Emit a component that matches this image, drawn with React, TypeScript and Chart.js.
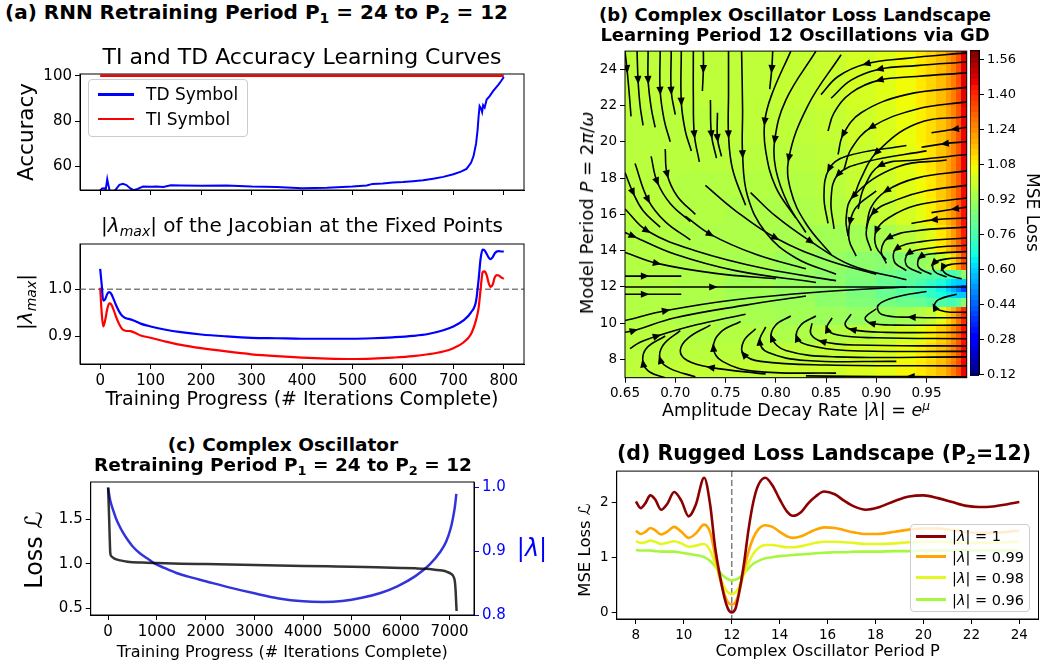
import React, { useEffect, useRef } from "react";
import { Chart, registerables } from "chart.js";

Chart.register(...registerables);

const FONT = "'DejaVu Sans', 'Liberation Sans', sans-serif";
Chart.defaults.font.family = FONT;
Chart.defaults.color = "#000";

// ---------------- Panel (a) data ----------------
const tdIter = [0, 4, 8, 11, 14, 16, 19, 24, 30, 38, 45, 52, 60, 66, 74, 85, 100, 112, 125, 140, 160, 200, 250, 300, 350, 400, 450, 500, 528, 540, 560, 580, 600, 620, 640, 660, 680, 700, 715, 726, 735, 740, 745, 748, 750, 752, 755, 757, 759, 762, 766, 772, 779, 789, 795, 800];
const tdAcc = [49.3, 50.2, 50.3, 49.8, 54.3, 52.0, 49.0, 48.5, 49.5, 51.8, 52.2, 51.7, 50.2, 49.4, 50.0, 51.0, 50.9, 51.0, 50.8, 51.6, 51.5, 51.4, 51.5, 51.0, 50.8, 50.3, 50.5, 51.0, 51.5, 52.2, 52.4, 52.8, 53.0, 53.4, 53.8, 54.5, 55.3, 56.5, 57.6, 58.8, 61.5, 64.5, 70.0, 76.0, 82.0, 86.6, 85.5, 84.0, 87.0, 86.0, 89.5, 91.0, 93.3, 96.0, 97.8, 99.5];
const tiIter = [0, 800];
const tiAcc = [100, 100];
const iterTicks = [0, 100, 200, 300, 400, 500, 600, 700, 800];
const accTicks = [60, 80, 100];

const jacIter = [0, 3, 6, 10, 14, 18, 22, 27, 32, 38, 44, 50, 60, 70, 80, 100, 130, 160, 200, 250, 300, 350, 400, 450, 500, 540, 580, 620, 650, 680, 700, 720, 735, 745, 750, 754, 758, 762, 766, 770, 774, 778, 782, 786, 790, 795, 800];
const jacTD = [1.043, 1.01, 0.976, 0.979, 0.99, 0.994, 0.99, 0.978, 0.965, 0.952, 0.943, 0.939, 0.936, 0.932, 0.927, 0.921, 0.914, 0.909, 0.904, 0.9, 0.897, 0.896, 0.895, 0.895, 0.895, 0.896, 0.898, 0.901, 0.905, 0.913, 0.921, 0.934, 0.951, 0.975, 1.02, 1.065, 1.084, 1.082, 1.075, 1.067, 1.064, 1.068, 1.076, 1.08, 1.081, 1.08, 1.08];
const jacTI = [1.003, 0.95, 0.921, 0.935, 0.958, 0.97, 0.968, 0.955, 0.94, 0.925, 0.915, 0.912, 0.911, 0.907, 0.902, 0.897, 0.889, 0.882, 0.875, 0.868, 0.862, 0.858, 0.855, 0.853, 0.852, 0.853, 0.855, 0.858, 0.862, 0.868, 0.875, 0.887, 0.905, 0.935, 0.96, 1.0, 1.036, 1.038, 1.03, 1.013, 1.005, 1.01, 1.025, 1.03, 1.029, 1.025, 1.022];
const jacTicks = [0.9, 1.0];
const jacRef = 1.0;

// ---------------- Panel (b) data ----------------
const lamEdges = [0.65, 0.7, 0.75, 0.8, 0.84, 0.87, 0.9, 0.92, 0.94, 0.95, 0.96, 0.97, 0.975, 0.98, 0.985, 0.99];
const periodEdges = [7, 8, 9, 10, 11, 11.5, 11.8, 12.2, 12.5, 13, 14, 15.5, 17, 18.5, 20, 22, 25];
// rows from P = 7 (bottom) up to P = 25 (top)
const lossGrid = [
  [0.98, 0.99, 0.99, 1.0, 1.01, 1.03, 1.05, 1.08, 1.1, 1.13, 1.17, 1.22, 1.27, 1.34, 1.46],
  [0.97, 0.97, 0.97, 0.98, 0.99, 1.01, 1.03, 1.06, 1.09, 1.12, 1.16, 1.21, 1.26, 1.33, 1.45],
  [0.97, 0.96, 0.96, 0.95, 0.96, 0.97, 0.99, 1.02, 1.05, 1.09, 1.14, 1.19, 1.25, 1.32, 1.44],
  [0.96, 0.95, 0.94, 0.93, 0.92, 0.91, 0.91, 0.93, 0.96, 0.99, 1.05, 1.13, 1.19, 1.28, 1.4],
  [0.96, 0.95, 0.93, 0.92, 0.89, 0.87, 0.85, 0.83, 0.82, 0.8, 0.78, 0.76, 0.76, 0.79, 0.88],
  [0.96, 0.95, 0.93, 0.91, 0.89, 0.86, 0.82, 0.8, 0.77, 0.73, 0.69, 0.65, 0.62, 0.6, 0.6],
  [0.96, 0.95, 0.93, 0.91, 0.89, 0.85, 0.82, 0.79, 0.75, 0.71, 0.66, 0.61, 0.56, 0.5, 0.4],
  [0.96, 0.95, 0.93, 0.91, 0.89, 0.86, 0.82, 0.8, 0.77, 0.73, 0.69, 0.65, 0.62, 0.6, 0.6],
  [0.96, 0.95, 0.93, 0.91, 0.89, 0.87, 0.84, 0.82, 0.81, 0.8, 0.78, 0.76, 0.77, 0.8, 0.9],
  [0.96, 0.95, 0.94, 0.92, 0.91, 0.89, 0.88, 0.88, 0.9, 0.93, 0.99, 1.06, 1.13, 1.22, 1.35],
  [0.96, 0.95, 0.95, 0.94, 0.93, 0.93, 0.94, 0.97, 1.01, 1.04, 1.1, 1.16, 1.22, 1.3, 1.42],
  [0.97, 0.96, 0.95, 0.95, 0.96, 0.97, 0.99, 1.02, 1.05, 1.09, 1.14, 1.19, 1.24, 1.32, 1.44],
  [0.97, 0.96, 0.96, 0.96, 0.97, 0.99, 1.01, 1.04, 1.07, 1.1, 1.15, 1.2, 1.25, 1.32, 1.45],
  [0.97, 0.97, 0.97, 0.97, 0.98, 1.0, 1.02, 1.05, 1.08, 1.11, 1.16, 1.21, 1.26, 1.33, 1.46],
  [0.97, 0.97, 0.98, 0.98, 0.99, 1.01, 1.03, 1.06, 1.09, 1.12, 1.16, 1.21, 1.26, 1.33, 1.46],
  [0.98, 0.98, 0.98, 0.99, 1.0, 1.02, 1.04, 1.07, 1.1, 1.13, 1.17, 1.22, 1.27, 1.34, 1.47],
];
const lamTicks = [0.65, 0.7, 0.75, 0.8, 0.85, 0.9, 0.95];
const periodTicks = [8, 10, 12, 14, 16, 18, 20, 22, 24];
const cbTicks = [0.12, 0.28, 0.44, 0.6, 0.76, 0.92, 1.08, 1.24, 1.4, 1.56];
const cbMin = 0.12;
const cbMax = 1.6;

// gradient-descent streamlines: points in (|lambda|, P), a = arrow position
const streamlines = [
  { a: 1, p: [[0.65, 25], [0.652, 24.0], [0.654, 22.8], [0.656, 21.4]] },
  { a: 1, p: [[0.662, 25], [0.663, 23.4], [0.665, 22.0], [0.668, 20.9]] },
  { a: 1, p: [[0.673, 25], [0.673, 23.4], [0.676, 21.9], [0.68, 20.8]] },
  { a: 1, p: [[0.685, 25], [0.685, 22.8], [0.689, 21.2], [0.695, 20.0]] },
  { a: 1, p: [[0.696, 25], [0.696, 22.8], [0.7, 21.5]] },
  { a: 1, p: [[0.706, 25], [0.706, 22.2], [0.71, 20.6], [0.716, 19.5]] },
  { a: 2, p: [[0.718, 25], [0.718, 22.5], [0.719, 20.4], [0.724, 18.9]] },
  { a: 1, p: [[0.728, 25], [0.728, 24.0], [0.727, 22.8]] },
  { a: 1, p: [[0.735, 22.3], [0.736, 20.4], [0.741, 19.1]] },
  { a: 1, p: [[0.742, 21.6], [0.742, 20.2], [0.746, 19.2]] },
  { a: 2, p: [[0.753, 25], [0.753, 22.6], [0.753, 20.4], [0.757, 18.5], [0.77, 16.5]] },
  { a: 2, p: [[0.766, 25], [0.767, 21.8], [0.767, 19.3], [0.772, 17.0], [0.79, 15.0], [0.82, 13.6], [0.86, 12.7]] },
  { a: 1, p: [[0.797, 25], [0.796, 24.0], [0.794, 22.9]] },
  { a: 2, p: [[0.815, 25], [0.796, 22.6], [0.789, 21.1], [0.79, 19.5], [0.8, 17.5], [0.82, 15.8]] },
  { a: 2, p: [[0.84, 25], [0.81, 22.3], [0.799, 20.1], [0.8, 18.5], [0.812, 16.6], [0.83, 15.0]] },
  { a: 2, p: [[0.865, 24.8], [0.832, 22.0], [0.813, 19.1], [0.815, 17.3], [0.83, 15.5], [0.855, 13.8]] },
  { a: 2, p: [[0.99, 24.9], [0.93, 24.6], [0.89, 24.3], [0.862, 23.6], [0.845, 22.6]] },
  { a: 2, p: [[0.99, 24.4], [0.94, 24.2], [0.903, 24.0], [0.875, 23.4], [0.855, 22.4]] },
  { a: 2, p: [[0.99, 23.8], [0.94, 23.6], [0.903, 23.4], [0.875, 22.7], [0.858, 21.6], [0.852, 20.6]] },
  { a: 3, p: [[0.99, 23.0], [0.93, 22.6], [0.885, 21.6], [0.867, 20.4], [0.862, 19.3]] },
  { a: 2, p: [[0.99, 22.2], [0.94, 21.8], [0.895, 20.8], [0.875, 19.6], [0.868, 18.5]] },
  { a: 2, p: [[0.99, 21.4], [0.94, 21.0], [0.9, 19.4], [0.885, 18.0], [0.878, 17.0]] },
  { a: 1, p: [[0.99, 20.8], [0.978, 20.7], [0.955, 20.5]] },
  { a: 1, p: [[0.99, 20.0], [0.968, 19.9], [0.945, 19.7]] },
  { a: 2, p: [[0.99, 19.3], [0.94, 19.0], [0.904, 18.7], [0.888, 17.5], [0.882, 16.3]] },
  { a: 2, p: [[0.97, 19.0], [0.92, 18.6], [0.877, 17.0], [0.87, 15.8], [0.872, 14.8]] },
  { a: 2, p: [[0.93, 19.8], [0.87, 19.2], [0.853, 18.5], [0.848, 17.0], [0.852, 15.5]] },
  { a: 2, p: [[0.95, 19.5], [0.89, 18.9], [0.862, 18.2], [0.855, 16.8], [0.858, 15.2]] },
  { a: 2, p: [[0.99, 18.4], [0.94, 18.0], [0.91, 17.3], [0.895, 16.4], [0.89, 15.2]] },
  { a: 3, p: [[0.99, 17.6], [0.95, 17.3], [0.92, 16.8], [0.897, 16.1], [0.89, 15.0], [0.895, 14.0]] },
  { a: 1, p: [[0.99, 16.4], [0.978, 16.3], [0.955, 16.1]] },
  { a: 1, p: [[0.99, 15.8], [0.957, 15.7], [0.935, 15.5]] },
  { a: 3, p: [[0.99, 16.9], [0.94, 16.5], [0.912, 15.8], [0.9, 15.1], [0.9, 14.2], [0.91, 13.5]] },
  { a: 2, p: [[0.9, 17.3], [0.88, 16.4], [0.874, 15.6], [0.873, 14.6], [0.88, 13.7]] },
  { a: 2, p: [[0.99, 15.3], [0.94, 15.1], [0.912, 14.7], [0.905, 14.0], [0.91, 13.3]] },
  { a: 2, p: [[0.99, 14.7], [0.945, 14.5], [0.92, 14.1], [0.918, 13.4], [0.93, 12.9]] },
  { a: 2, p: [[0.99, 14.3], [0.955, 14.15], [0.932, 13.85], [0.93, 13.2], [0.945, 12.75]] },
  { a: 2, p: [[0.99, 13.95], [0.96, 13.85], [0.944, 13.65], [0.942, 13.1], [0.955, 12.7]] },
  { a: 2, p: [[0.99, 13.6], [0.97, 13.55], [0.957, 13.3], [0.958, 12.85], [0.97, 12.55]] },
  { a: 2, p: [[0.99, 13.3], [0.975, 13.25], [0.966, 13.05], [0.97, 12.7], [0.985, 12.45]] },
  { a: 1, p: [[0.65, 18.3], [0.658, 17.2], [0.668, 16.2], [0.685, 15.3]] },
  { a: 1, p: [[0.66, 18.8], [0.673, 16.8], [0.69, 15.6], [0.715, 14.6]] },
  { a: 1, p: [[0.676, 19.2], [0.682, 17.8], [0.695, 16.6], [0.715, 15.6]] },
  { a: 1, p: [[0.69, 19.6], [0.692, 18.2], [0.702, 17.0], [0.72, 16.0]] },
  { a: 1, p: [[0.65, 15.0], [0.658, 14.8], [0.7, 13.8], [0.76, 12.9], [0.84, 12.25]] },
  { a: 1, p: [[0.65, 16.3], [0.672, 15.1], [0.72, 14.0], [0.79, 13.0], [0.86, 12.35]] },
  { a: 1, p: [[0.65, 13.9], [0.682, 13.3], [0.74, 12.75], [0.8, 12.45]] },
  { a: 1, p: [[0.65, 12.6], [0.67, 12.6], [0.706, 12.6]] },
  { a: 1, p: [[0.65, 12.0], [0.738, 12.0], [0.86, 12.0], [0.99, 12.0]] },
  { a: 1, p: [[0.65, 11.6], [0.67, 11.6], [0.706, 11.6]] },
  { a: 1, p: [[0.65, 10.15], [0.691, 10.7], [0.76, 11.3], [0.85, 11.75], [0.93, 12.0]] },
  { a: 1, p: [[0.65, 9.5], [0.659, 9.6], [0.7, 10.3], [0.77, 11.0], [0.83, 11.5]] },
  { a: 2, p: [[0.655, 8.6], [0.665, 8.95], [0.682, 9.3], [0.72, 9.9], [0.77, 10.5]] },
  { a: 1, p: [[0.71, 15.9], [0.735, 14.9], [0.78, 13.8], [0.83, 13.0]] },
  { a: 2, p: [[0.73, 17.6], [0.76, 16.2], [0.8, 14.7], [0.85, 13.5], [0.9, 12.7]] },
  { a: 2, p: [[0.775, 17.2], [0.8, 15.9], [0.835, 14.5], [0.875, 13.2], [0.93, 12.4]] },
  { a: 2, p: [[0.99, 10.6], [0.968, 10.65], [0.958, 10.9], [0.962, 11.3], [0.98, 11.6]] },
  { a: 1, p: [[0.99, 10.3], [0.935, 10.33], [0.905, 10.5], [0.902, 11.0], [0.92, 11.45], [0.95, 11.75]] },
  { a: 2, p: [[0.99, 9.9], [0.92, 9.9], [0.895, 10.0], [0.889, 10.3], [0.9, 10.8]] },
  { a: 2, p: [[0.99, 9.5], [0.91, 9.5], [0.876, 9.65], [0.869, 9.95], [0.875, 10.5]] },
  { a: 3, p: [[0.99, 9.15], [0.9, 9.2], [0.862, 9.35], [0.851, 9.7], [0.856, 10.3]] },
  { a: 2, p: [[0.99, 8.75], [0.88, 8.8], [0.846, 9.0], [0.835, 9.4], [0.836, 10.0]] },
  { a: 3, p: [[0.99, 8.45], [0.87, 8.5], [0.832, 8.8], [0.821, 9.2], [0.825, 9.9], [0.84, 10.4]] },
  { a: 3, p: [[0.99, 8.15], [0.86, 8.15], [0.81, 8.5], [0.796, 9.2], [0.8, 9.9], [0.815, 10.4]] },
  { a: 3, p: [[0.92, 7.9], [0.83, 7.95], [0.792, 8.4], [0.784, 9.0], [0.79, 9.8]] },
  { a: 3, p: [[0.99, 7.65], [0.85, 7.7], [0.785, 7.9], [0.768, 8.3], [0.768, 9.0], [0.78, 9.7]] },
  { a: 3, p: [[0.86, 7.25], [0.78, 7.35], [0.747, 7.9], [0.738, 8.66], [0.745, 9.5], [0.765, 10.1]] },
  { a: 1, p: [[0.79, 7.2], [0.735, 7.57], [0.712, 7.95], [0.705, 8.5], [0.713, 9.2], [0.735, 9.9]] },
  { a: 2, p: [[0.72, 7.05], [0.695, 7.5], [0.685, 8.0], [0.688, 8.8], [0.705, 9.6]] },
  { a: 2, p: [[0.69, 7.0], [0.675, 7.3], [0.668, 7.8], [0.671, 8.6], [0.69, 9.3]] },
  { a: 1, p: [[0.99, 7.05], [0.934, 7.06], [0.874, 7.08], [0.83, 7.1]] },
];

// ---------------- Panel (c) data ----------------
const ocIter = [0, 15, 30, 45, 70, 130, 250, 400, 700, 1000, 1500, 2000, 2500, 3000, 3500, 4000, 4500, 5000, 5500, 6000, 6300, 6500, 6700, 6850, 6950, 7030, 7080, 7110, 7125, 7135, 7145];
const ocLoss = [1.86, 1.62, 1.35, 1.12, 1.085, 1.06, 1.04, 1.025, 1.015, 1.01, 1.003, 0.998, 0.993, 0.988, 0.983, 0.978, 0.973, 0.968, 0.962, 0.955, 0.95, 0.945, 0.935, 0.925, 0.91, 0.89, 0.86, 0.8, 0.7, 0.58, 0.47];
const ocLamIter = [0, 30, 60, 110, 160, 230, 300, 400, 500, 650, 800, 950, 1150, 1400, 1700, 2000, 2500, 3000, 3500, 4000, 4400, 4800, 5200, 5600, 5930, 6300, 6590, 6800, 6930, 7020, 7070, 7110, 7140];
const ocLam = [1.0, 0.985, 0.975, 0.963, 0.952, 0.94, 0.93, 0.918, 0.908, 0.897, 0.889, 0.881, 0.874, 0.866, 0.859, 0.853, 0.843, 0.834, 0.826, 0.8215, 0.8205, 0.822, 0.827, 0.835, 0.845, 0.861, 0.879, 0.898, 0.915, 0.935, 0.952, 0.97, 0.99];
const ocIterTicks = [0, 1000, 2000, 3000, 4000, 5000, 6000, 7000];
const ocLossTicks = [0.5, 1.0, 1.5];
const ocLamTicks = [0.8, 0.9, 1.0];

// ---------------- Panel (d) data ----------------
const dPeriod = [8, 8.2, 8.4, 8.6, 8.8, 9.05, 9.3, 9.6, 9.9, 10.2, 10.5, 10.85, 11.1, 11.3, 11.5, 11.7, 11.85, 12, 12.15, 12.3, 12.5, 12.7, 12.9, 13.1, 13.4, 13.7, 14.0, 14.3, 14.55, 14.9, 15.2, 15.5, 15.85, 16.3, 16.7, 17.1, 17.6, 18.1, 18.8, 19.4, 20.0, 20.6, 21.2, 21.8, 22.3, 22.9, 23.5, 24];
const loss100 = [2.01, 1.89, 1.98, 2.12, 2.05, 1.86, 1.96, 2.18, 2.02, 1.74, 1.95, 2.44, 1.95, 1.2, 0.68, 0.26, 0.06, 0.0, 0.06, 0.34, 0.85, 1.5, 2.0, 2.3, 2.44, 2.3, 2.05, 1.83, 1.75, 1.82, 1.98, 2.1, 2.19, 2.14, 2.02, 1.92, 1.86, 1.9, 2.02, 2.1, 2.12, 2.07, 2.0, 1.93, 1.91, 1.92, 1.96, 2.0];
const loss099 = [1.48, 1.42, 1.46, 1.53, 1.49, 1.41, 1.46, 1.55, 1.46, 1.35, 1.43, 1.59, 1.45, 1.05, 0.62, 0.32, 0.18, 0.14, 0.18, 0.35, 0.75, 1.1, 1.35, 1.5, 1.58, 1.55, 1.46, 1.38, 1.35, 1.38, 1.44, 1.5, 1.54, 1.53, 1.49, 1.45, 1.42, 1.42, 1.46, 1.5, 1.52, 1.52, 1.49, 1.46, 1.44, 1.44, 1.46, 1.48];
const loss098 = [1.29, 1.26, 1.27, 1.3, 1.28, 1.24, 1.26, 1.29, 1.25, 1.19, 1.21, 1.24, 1.12, 0.9, 0.65, 0.45, 0.36, 0.33, 0.36, 0.46, 0.68, 0.9, 1.06, 1.16, 1.22, 1.22, 1.2, 1.18, 1.18, 1.2, 1.23, 1.26, 1.28, 1.28, 1.27, 1.26, 1.24, 1.24, 1.25, 1.27, 1.28, 1.28, 1.27, 1.26, 1.26, 1.26, 1.27, 1.28];
const loss096 = [1.13, 1.12, 1.12, 1.12, 1.11, 1.1, 1.1, 1.1, 1.08, 1.06, 1.04, 1.0, 0.93, 0.84, 0.73, 0.64, 0.6, 0.58, 0.59, 0.62, 0.7, 0.8, 0.88, 0.93, 0.98, 1.0, 1.02, 1.03, 1.04, 1.05, 1.06, 1.07, 1.08, 1.09, 1.09, 1.1, 1.1, 1.1, 1.11, 1.11, 1.12, 1.12, 1.12, 1.12, 1.12, 1.12, 1.12, 1.12];
const dPeriodTicks = [8, 10, 12, 14, 16, 18, 20, 22, 24];
const dLossTicks = [0, 1, 2];
const targetPeriod = 12;

// ---------------- helpers ----------------
const JET: Record<string, number[][]> = {
  r: [[0, 0], [0.35, 0], [0.66, 1], [0.89, 1], [1, 0.5]],
  g: [[0, 0], [0.125, 0], [0.375, 1], [0.64, 1], [0.91, 0], [1, 0]],
  b: [[0, 0.5], [0.11, 1], [0.34, 1], [0.65, 0], [1, 0]],
};
function seg(pts: number[][], t: number) {
  for (let i = 1; i < pts.length; i++) {
    if (t <= pts[i][0]) {
      const [x0, y0] = pts[i - 1];
      const [x1, y1] = pts[i];
      return y0 + ((y1 - y0) * (t - x0)) / (x1 - x0);
    }
  }
  return pts[pts.length - 1][1];
}
function jet(v: number) {
  const t = Math.max(0, Math.min(1, (v - cbMin) / (cbMax - cbMin)));
  const c = (k: string) => Math.round(255 * seg(JET[k], t));
  return `rgb(${c("r")},${c("g")},${c("b")})`;
}
const pts = (xs: number[], ys: number[]) => xs.map((x, i) => ({ x, y: ys[i] }));
const intFmt = (v: number) => String(Math.round(v));
const f1 = (v: number) => v.toFixed(1);
const f2 = (v: number) => v.toFixed(2);

function linAxis(o: any) {
  return {
    type: "linear",
    position: o.position,
    display: true,
    min: o.min,
    max: o.max,
    bounds: "data",
    afterBuildTicks: (s: any) => {
      s.ticks = o.ticks.map((v: number) => ({ value: v }));
    },
    afterFit: (s: any) => {
      if (o.horizontal) s.height = o.size;
      else s.width = o.size;
    },
    grid: { display: true, drawOnChartArea: false, drawTicks: true, tickLength: 5, color: o.tickColor || "#000", lineWidth: 1 },
    border: { display: true, color: "#000", width: 1 },
    ticks: {
      display: o.labels !== false,
      padding: 3,
      autoSkip: false,
      maxRotation: 0,
      color: o.labelColor || "#000",
      font: { size: o.fontSize, family: FONT },
      callback: (v: number) => o.fmt(v),
    },
    title: o.title
      ? { display: true, text: o.title.text, color: "#000", font: { size: o.title.size, family: FONT }, padding: o.title.padding }
      : { display: false },
  };
}

const baseOpts = (padding: any) => ({
  responsive: false,
  animation: false,
  devicePixelRatio: 1,
  events: [],
  layout: { padding },
  plugins: { legend: { display: false }, tooltip: { enabled: false }, title: { display: false } },
});

const framePlugin = {
  id: "frame",
  afterDatasetsDraw(chart: any) {
    const { ctx, chartArea: a } = chart;
    ctx.save();
    ctx.strokeStyle = "#000";
    ctx.lineWidth = 1;
    ctx.strokeRect(a.left, a.top, a.right - a.left, a.bottom - a.top);
    ctx.restore();
  },
};

const refLinePlugin = (axis: "x" | "y", value: number) => ({
  id: "refLine",
  beforeDatasetsDraw(chart: any) {
    const { ctx, chartArea: a, scales } = chart;
    ctx.save();
    ctx.strokeStyle = "#808080";
    ctx.lineWidth = 1.5;
    ctx.setLineDash([6, 3]);
    ctx.beginPath();
    if (axis === "y") {
      const y = scales.y.getPixelForValue(value);
      ctx.moveTo(a.left, y);
      ctx.lineTo(a.right, y);
    } else {
      const x = scales.x.getPixelForValue(value);
      ctx.moveTo(x, a.top);
      ctx.lineTo(x, a.bottom);
    }
    ctx.stroke();
    ctx.restore();
  },
});

const heatmapPlugin = {
  id: "heatmap",
  beforeDatasetsDraw(chart: any) {
    const { ctx, chartArea: a, scales } = chart;
    ctx.save();
    ctx.beginPath();
    ctx.rect(a.left, a.top, a.right - a.left, a.bottom - a.top);
    ctx.clip();
    for (let i = 0; i < lossGrid.length; i++) {
      const yTop = scales.y.getPixelForValue(periodEdges[i + 1]);
      const yBot = scales.y.getPixelForValue(periodEdges[i]);
      for (let j = 0; j < lossGrid[i].length; j++) {
        const x0 = scales.x.getPixelForValue(lamEdges[j]);
        const x1 = scales.x.getPixelForValue(lamEdges[j + 1]);
        ctx.fillStyle = jet(lossGrid[i][j]);
        ctx.fillRect(Math.floor(x0), Math.floor(yTop), Math.ceil(x1) - Math.floor(x0) + 1, Math.ceil(yBot) - Math.floor(yTop) + 1);
      }
    }
    ctx.restore();
  },
};

const arrowPlugin = {
  id: "streamArrows",
  afterDatasetsDraw(chart: any) {
    const { ctx, chartArea: a } = chart;
    ctx.save();
    ctx.beginPath();
    ctx.rect(a.left, a.top, a.right - a.left, a.bottom - a.top);
    ctx.clip();
    ctx.fillStyle = "#000";
    streamlines.forEach((s, i) => {
      const el = chart.getDatasetMeta(i).data;
      const k = s.a;
      const p = el[k];
      const q0 = el[Math.max(0, k - 1)];
      const q1 = el[Math.min(el.length - 1, k + 1)];
      let dx = q1.x - q0.x;
      let dy = q1.y - q0.y;
      const L = Math.hypot(dx, dy) || 1;
      dx /= L;
      dy /= L;
      const len = 8.5;
      const hw = 3.6;
      const tx = p.x + dx * len * 0.5;
      const ty = p.y + dy * len * 0.5;
      const bx = p.x - dx * len * 0.5;
      const by = p.y - dy * len * 0.5;
      ctx.beginPath();
      ctx.moveTo(tx, ty);
      ctx.lineTo(bx - dy * hw, by + dx * hw);
      ctx.lineTo(bx + dy * hw, by - dx * hw);
      ctx.closePath();
      ctx.fill();
    });
    ctx.restore();
  },
};

const colorbarPlugin = {
  id: "colorbar",
  beforeDatasetsDraw(chart: any) {
    const { ctx, chartArea: a, scales } = chart;
    const n = 60;
    ctx.save();
    for (let k = 0; k < n; k++) {
      const v0 = cbMin + ((cbMax - cbMin) * k) / n;
      const v1 = cbMin + ((cbMax - cbMin) * (k + 1)) / n;
      const y0 = scales.y.getPixelForValue(v1);
      const y1 = scales.y.getPixelForValue(v0);
      ctx.fillStyle = jet((v0 + v1) / 2);
      ctx.fillRect(a.left, Math.floor(y0), a.right - a.left, Math.ceil(y1) - Math.floor(y0) + 1);
    }
    ctx.restore();
  },
};

// ---------------- chart configs ----------------
const cfgA1 = () => ({
  type: "line",
  data: {
    datasets: [
      { data: pts(tdIter, tdAcc), borderColor: "#0000ff", borderWidth: 2, pointRadius: 0 },
      { data: pts(tiIter, tiAcc), borderColor: "#ff0000", borderWidth: 2.5, pointRadius: 0 },
    ],
  },
  options: {
    ...baseOpts({ top: 8.5, right: 6, left: 0, bottom: 0 }),
    scales: {
      x: linAxis({ horizontal: true, min: -40, max: 840, ticks: iterTicks, fmt: intFmt, size: 7, fontSize: 15, labels: false }),
      y: linAxis({ position: "left", min: 49.5, max: 100.8, ticks: accTicks, fmt: intFmt, size: 80, fontSize: 15, title: { text: "Accuracy", size: 21.5, padding: { top: 14.6, bottom: 0 } } }),
    },
  },
  plugins: [framePlugin],
});

const cfgA2 = () => ({
  type: "line",
  data: {
    datasets: [
      { data: pts(jacIter, jacTD), borderColor: "#0000ff", borderWidth: 2.2, pointRadius: 0, cubicInterpolationMode: "monotone" },
      { data: pts(jacIter, jacTI), borderColor: "#ff0000", borderWidth: 2.2, pointRadius: 0, cubicInterpolationMode: "monotone" },
    ],
  },
  options: {
    ...baseOpts({ top: 7.3, right: 6, left: 0, bottom: 0 }),
    scales: {
      x: linAxis({ horizontal: true, min: -40, max: 840, ticks: iterTicks, fmt: intFmt, size: 56, fontSize: 15, title: { text: "Training Progress (# Iterations Complete)", size: 19, padding: { top: 0, bottom: 8.6 } } }),
      y: linAxis({ position: "left", min: 0.8414, max: 1.0959, ticks: jacTicks, fmt: f1, size: 80, fontSize: 15 }),
    },
  },
  plugins: [refLinePlugin("y", jacRef), framePlugin],
});

const cfgB = () => ({
  type: "line",
  data: {
    datasets: streamlines.map((s) => ({
      data: s.p.map(([x, y]) => ({ x, y })),
      borderColor: "#000",
      borderWidth: 1.6,
      pointRadius: 0,
      tension: 0.4,
      fill: false,
    })),
  },
  options: {
    ...baseOpts({ top: 8.3, right: 3.3, left: 0, bottom: 0 }),
    scales: {
      x: linAxis({ horizontal: true, min: 0.65, max: 0.99, ticks: lamTicks, fmt: f2, size: 22.3, fontSize: 13.5 }),
      y: linAxis({ position: "left", min: 7, max: 25, ticks: periodTicks, fmt: intFmt, size: 65, fontSize: 13.5 }),
    },
  },
  plugins: [heatmapPlugin, arrowPlugin, framePlugin],
});

const cfgCB = () => ({
  type: "line",
  data: { datasets: [] },
  options: {
    ...baseOpts({ top: 8.3, right: 0, left: 0, bottom: 7.3 }),
    scales: {
      x: { type: "linear", display: false, min: 0, max: 1 },
      y: linAxis({ position: "right", min: cbMin, max: cbMax, ticks: cbTicks, fmt: f2, size: 65, fontSize: 13, title: { text: "MSE Loss", size: 17, padding: { top: 2, bottom: 0 } } }),
    },
  },
  plugins: [colorbarPlugin, framePlugin],
});

const cfgC = () => ({
  type: "line",
  data: {
    datasets: [
      { data: pts(ocIter, ocLoss), yAxisID: "y", borderColor: "rgba(0,0,0,0.8)", borderWidth: 2.5, pointRadius: 0, cubicInterpolationMode: "monotone" },
      { data: pts(ocLamIter, ocLam), yAxisID: "y2", borderColor: "rgba(0,0,210,0.8)", borderWidth: 2.5, pointRadius: 0, cubicInterpolationMode: "monotone" },
    ],
  },
  options: {
    ...baseOpts({ top: 11.7, right: 0, left: 0, bottom: 0 }),
    scales: {
      x: linAxis({ horizontal: true, min: -357, max: 7502, ticks: ocIterTicks, fmt: intFmt, size: 56, fontSize: 15, title: { text: "Training Progress (# Iterations Complete)", size: 16, padding: { top: 0, bottom: 8.4 } } }),
      y: linAxis({ position: "left", min: 0.425, max: 1.9225, ticks: ocLossTicks, fmt: f1, size: 90.7, fontSize: 15 }),
      y2: linAxis({ position: "right", min: 0.8, max: 1.0088, ticks: ocLamTicks, fmt: f1, size: 56, fontSize: 15, labelColor: "#0000ff", tickColor: "#0000ff" }),
    },
  },
  plugins: [framePlugin],
});

const dLine = (ys: number[], color: string) => ({
  data: pts(dPeriod, ys),
  borderColor: color,
  borderWidth: 2.6,
  pointRadius: 0,
  cubicInterpolationMode: "monotone",
});

const cfgD = () => ({
  type: "line",
  data: {
    datasets: [
      dLine(loss100, "#8b0000"),
      dLine(loss099, "#ffa500"),
      dLine(loss098, "#e4f721"),
      dLine(loss096, "#a6f83f"),
    ],
  },
  options: {
    ...baseOpts({ top: 8.3, right: 5.5, left: 0, bottom: 0 }),
    scales: {
      x: linAxis({ horizontal: true, min: 7.2, max: 24.8, ticks: dPeriodTicks, fmt: intFmt, size: 52, fontSize: 13.5, title: { text: "Complex Oscillator Period P", size: 16.3, padding: { top: 0, bottom: 9.5 } } }),
      y: linAxis({ position: "left", min: -0.12, max: 2.56, ticks: dLossTicks, fmt: intFmt, size: 56.7, fontSize: 13.5 }),
    },
  },
  plugins: [refLinePlugin("x", targetPeriod), framePlugin],
});

// ---------------- components ----------------
function ChartCanvas({ left, top, width, height, make }: any) {
  const ref = useRef<HTMLCanvasElement>(null);
  useEffect(() => {
    const chart = new Chart(ref.current as HTMLCanvasElement, make() as any);
    return () => chart.destroy();
  }, []);
  return <canvas ref={ref} width={width} height={height} style={{ position: "absolute", left, top, width, height }} />;
}

function Txt({ x, y, size, bold, rot, color, left, children }: any) {
  const tr = `translate(${left ? "0" : "-50%"},-50%)${rot ? ` rotate(${rot}deg)` : ""}`;
  return (
    <div
      style={{
        position: "absolute",
        left: x,
        top: y,
        transform: tr,
        fontFamily: FONT,
        fontSize: size,
        fontWeight: bold ? 700 : 400,
        color: color || "#000",
        whiteSpace: "nowrap",
        lineHeight: 1,
      }}
    >
      {children}
    </div>
  );
}

const Sub = ({ children }: any) => (
  <sub style={{ fontSize: "0.7em", verticalAlign: "-0.3em", lineHeight: 0 }}>{children}</sub>
);
const Sup = ({ children }: any) => (
  <sup style={{ fontSize: "0.7em", verticalAlign: "0.5em", lineHeight: 0 }}>{children}</sup>
);

function LegendRow({ y, color, lw, x0, w, tx, size, children }: any) {
  return (
    <>
      <div style={{ position: "absolute", left: x0, top: y - lw / 2, width: w, height: lw, background: color }} />
      <div style={{ position: "absolute", left: tx, top: y, transform: "translateY(-50%)", fontFamily: FONT, fontSize: size, whiteSpace: "nowrap", lineHeight: 1 }}>
        {children}
      </div>
    </>
  );
}

export default function App() {
  return (
    <div style={{ position: "absolute", left: 0, top: 0, width: 1044, height: 671, background: "#fff", overflow: "hidden" }}>
      <ChartCanvas left={0} top={62} width={530} height={140} make={cfgA1} />
      <ChartCanvas left={0} top={232} width={530} height={188} make={cfgA2} />
      <ChartCanvas left={560} top={40} width={410} height={360} make={cfgB} />
      <ChartCanvas left={970} top={40} width={74} height={345} make={cfgCB} />
      <ChartCanvas left={0} top={470} width={530} height={201} make={cfgC} />
      <ChartCanvas left={560} top={460} width={484} height={211} make={cfgD} />

      {/* Panel (a) */}
      <Txt x={5} y={12} size={20} bold left>
        (a) RNN Retraining Period P<Sub>1</Sub> = 24 to P<Sub>2</Sub> = 12
      </Txt>
      <Txt x={302} y={56.5} size={22}>TI and TD Accuracy Learning Curves</Txt>
      <Txt x={302} y={225} size={20}>
        |<i>λ</i><Sub><i>max</i></Sub>| of the Jacobian at the Fixed Points
      </Txt>
      <Txt x={25} y={301.7} size={20} rot={-90}>
        |<i>λ</i><Sub><i>max</i></Sub>|
      </Txt>
      <div style={{ position: "absolute", left: 88, top: 79, width: 160, height: 58, border: "1px solid #cccccc", borderRadius: 4, background: "rgba(255,255,255,0.8)", boxSizing: "border-box" }}>
        <LegendRow y={14.3} color="#0000ff" lw={2.5} x0={9} w={36} tx={57} size={17}>TD Symbol</LegendRow>
        <LegendRow y={39} color="#ff0000" lw={2.5} x0={9} w={36} tx={57} size={17}>TI Symbol</LegendRow>
      </div>

      {/* Panel (b) */}
      <Txt x={795} y={15} size={18} bold>(b) Complex Oscillator Loss Landscape</Txt>
      <Txt x={795} y={35} size={18} bold>Learning Period 12 Oscillations via GD</Txt>
      <Txt x={796} y={411} size={17.5}>
        Amplitude Decay Rate |<i>λ</i>| = <i>e</i><Sup><i>μ</i></Sup>
      </Txt>
      <Txt x={587} y={213} size={18} rot={-90}>
        Model Period <i>P</i> = 2<i>π</i>/<i>ω</i>
      </Txt>

      {/* Panel (c) */}
      <Txt x={283} y={445} size={18.5} bold>(c) Complex Oscillator</Txt>
      <Txt x={283} y={465} size={18.5} bold>
        Retraining Period P<Sub>1</Sub> = 24 to P<Sub>2</Sub> = 12
      </Txt>
      <Txt x={34} y={550} size={24} rot={-90}>Loss ℒ</Txt>
      <Txt x={532} y={548} size={24} color="#0000ff">
        |<i>λ</i>|
      </Txt>

      {/* Panel (d) */}
      <Txt x={824} y={453} size={20.5} bold>
        (d) Rugged Loss Landscape (P<Sub>2</Sub>=12)
      </Txt>
      <Txt x={585} y={550} size={16.5} rot={-90}>MSE Loss ℒ</Txt>
      <div style={{ position: "absolute", left: 910, top: 523.7, width: 120, height: 88.6, border: "1px solid #cccccc", borderRadius: 4, background: "rgba(255,255,255,0.8)", boxSizing: "border-box" }}>
        <LegendRow y={11.6} color="#8b0000" lw={3} x0={5} w={30} tx={41} size={14.5}>|<i>λ</i>| = 1</LegendRow>
        <LegendRow y={32.3} color="#ffa500" lw={3} x0={5} w={30} tx={41} size={14.5}>|<i>λ</i>| = 0.99</LegendRow>
        <LegendRow y={53.3} color="#e4f721" lw={3} x0={5} w={30} tx={41} size={14.5}>|<i>λ</i>| = 0.98</LegendRow>
        <LegendRow y={75} color="#a6f83f" lw={3} x0={5} w={30} tx={41} size={14.5}>|<i>λ</i>| = 0.96</LegendRow>
      </div>
    </div>
  );
}
